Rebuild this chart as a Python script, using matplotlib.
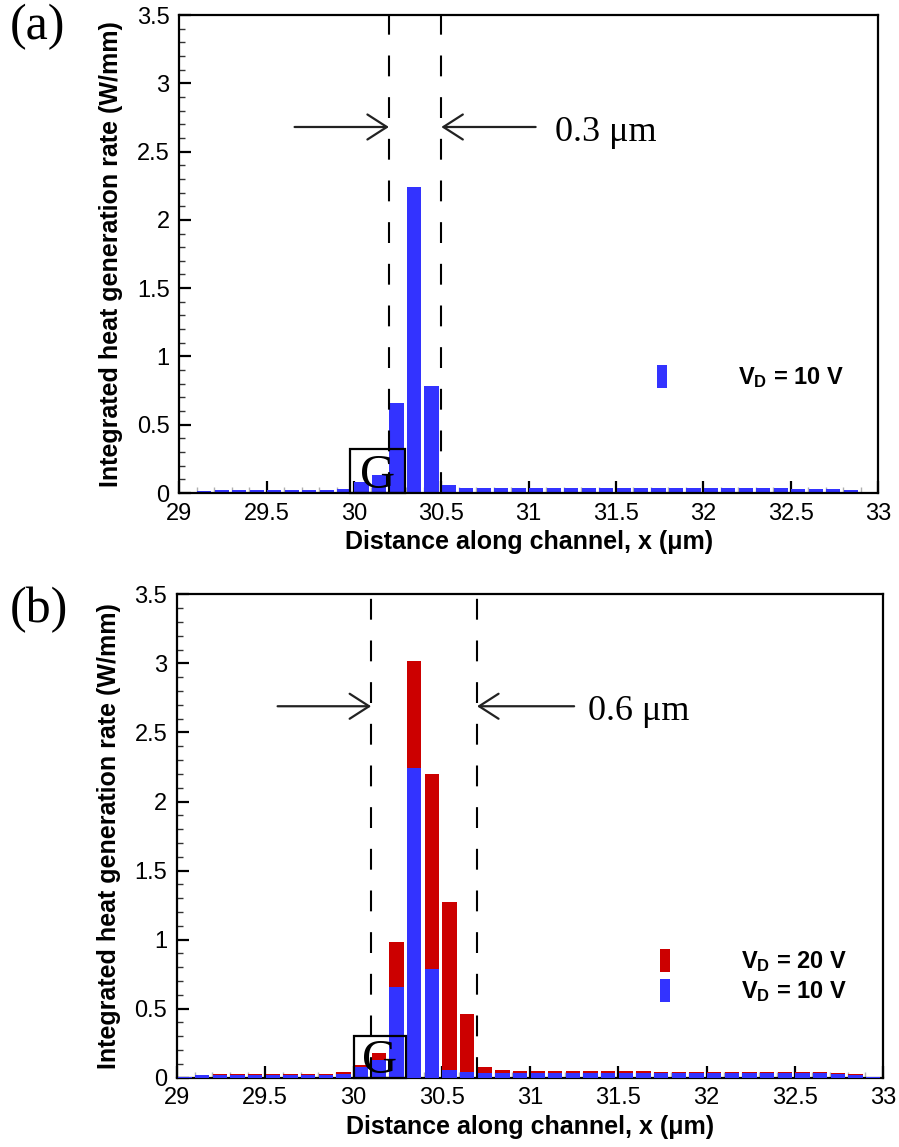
import numpy as np
import matplotlib
matplotlib.use("Agg")
import matplotlib.pyplot as plt
from matplotlib.patches import Rectangle
from matplotlib.ticker import MultipleLocator

plt.rcParams['font.family'] = ['Liberation Sans', 'DejaVu Sans']
plt.rcParams['mathtext.fontset'] = 'custom'
plt.rcParams['mathtext.rm'] = 'Liberation Sans'
plt.rcParams['mathtext.bf'] = 'Liberation Sans:bold'
plt.rcParams['mathtext.it'] = 'Liberation Sans:bold'

# Bin start positions along the channel (0.1 um bins, 29.0 .. 32.9)
bin_start = [round(29.0 + 0.1 * i, 1) for i in range(40)]

# Integrated heat generation rate per bin (W/mm), V_D = 10 V
q_10v = [0.008, 0.018, 0.020, 0.022, 0.022, 0.022, 0.022, 0.022, 0.022, 0.030,
         0.078, 0.130, 0.660, 2.240, 0.785, 0.055, 0.040, 0.036, 0.035, 0.035,
         0.035, 0.035, 0.035, 0.034, 0.034, 0.034, 0.034, 0.034, 0.033, 0.033,
         0.033, 0.033, 0.033, 0.033, 0.033, 0.032, 0.032, 0.030, 0.020, 0.005]

# Integrated heat generation rate per bin (W/mm), V_D = 20 V
q_20v = [0.008, 0.020, 0.024, 0.025, 0.025, 0.026, 0.026, 0.026, 0.026, 0.040,
         0.092, 0.180, 0.980, 3.020, 2.200, 1.270, 0.460, 0.080, 0.058, 0.050,
         0.048, 0.047, 0.046, 0.046, 0.045, 0.045, 0.045, 0.044, 0.044, 0.044,
         0.043, 0.043, 0.043, 0.042, 0.042, 0.042, 0.040, 0.035, 0.025, 0.005]

BLUE = '#3333ff'
RED = '#cc0000'

W, H = 899, 1147
fig = plt.figure(figsize=(W / 100, H / 100), dpi=100)


def px_axes(left, right, top, bottom):
    return fig.add_axes([left / W, 1 - bottom / H, (right - left) / W, (bottom - top) / H])


def style_axes(ax):
    ax.set_xlim(29, 33)
    ax.set_ylim(0, 3.5)
    for s in ax.spines.values():
        s.set_linewidth(1.6)
    ax.xaxis.set_major_locator(MultipleLocator(0.5))
    ax.xaxis.set_minor_locator(MultipleLocator(0.1))
    ax.yaxis.set_major_locator(MultipleLocator(0.5))
    ax.yaxis.set_minor_locator(MultipleLocator(0.1))
    ax.xaxis.set_major_formatter(plt.FuncFormatter(lambda v, p: f'{v:g}'))
    ax.yaxis.set_major_formatter(plt.FuncFormatter(lambda v, p: f'{v:g}'))
    ax.tick_params(axis='both', which='major', direction='in', length=8.5, width=1.6,
                   labelsize=17, top=False, right=False)
    ax.tick_params(axis='x', which='major', pad=7)
    ax.tick_params(axis='y', which='major', pad=7)
    ax.tick_params(axis='x', which='minor', direction='in', length=4, width=1.0,
                   color='#b0b0b0', top=False)
    ax.tick_params(axis='y', which='minor', direction='in', length=4, width=1.0,
                   color='#333333', right=False)
    ax.set_xlabel('Distance along channel, x (\u03bcm)', fontsize=18, fontweight='bold',
                  labelpad=4)
    ax.set_ylabel('Integrated heat generation rate (W/mm)', fontsize=18,
                  fontweight='bold', labelpad=10)


def span_marks(ax, x_left, x_right, y, tail_left, tail_right, label, label_x):
    dash = dict(color='black', lw=1.5, dashes=(10, 10), zorder=4)
    ax.axvline(x_left, **dash)
    ax.axvline(x_right, **dash)
    arrow = dict(arrowstyle='->,head_length=0.7,head_width=0.45', lw=1.6,
                 color='#222222', shrinkA=0, shrinkB=0, mutation_scale=20)
    ax.annotate('', xy=(x_left, y), xytext=(tail_left, y), arrowprops=arrow)
    ax.annotate('', xy=(x_right, y), xytext=(tail_right, y), arrowprops=arrow)
    ax.text(label_x, y - 0.04, label, fontsize=26, family='Liberation Serif',
            ha='left', va='center')


def gate_box(ax, x0, x1, top):
    ax.add_patch(Rectangle((x0, 0), x1 - x0, top, fill=False, lw=1.6,
                           edgecolor='black', zorder=5, clip_on=False))
    ax.text((x0 + x1) / 2, 0.035, 'G', fontsize=35, family='Liberation Serif',
            ha='center', va='baseline', zorder=6)


left_edges = np.array(bin_start) + 0.003
bar_w = 0.081
legend_style = dict(loc='upper left', frameon=False,
                    prop={'weight': 'bold', 'size': 17},
                    handlelength=0.42, handleheight=1.1, handletextpad=3.0,
                    labelspacing=0.2, borderpad=0, borderaxespad=0)

# Panel (a): V_D = 10 V
ax1 = px_axes(179.3, 878, 15, 493)
b10a = ax1.bar(left_edges, q_10v, width=bar_w, align='edge', color=BLUE,
               edgecolor='none', zorder=2)
style_axes(ax1)
span_marks(ax1, 30.2, 30.5, 2.68, 29.66, 31.04, '0.3 \u03bcm', 31.15)
gate_box(ax1, 29.98, 30.29, 0.32)
ax1.legend([b10a], [r'$\mathbf{V_D}$ = 10 V'], bbox_to_anchor=(0.684, 0.268),
           **legend_style)

# Panel (b): V_D = 20 V overlaid with V_D = 10 V
ax2 = px_axes(177, 883, 594.4, 1077.7)
b20 = ax2.bar(left_edges, q_20v, width=bar_w, align='edge', color=RED,
              edgecolor='none', zorder=2)
b10b = ax2.bar(left_edges, q_10v, width=bar_w, align='edge', color=BLUE,
               edgecolor='none', zorder=3)
style_axes(ax2)
span_marks(ax2, 30.1, 30.7, 2.69, 29.57, 31.25, '0.6 \u03bcm', 31.33)
gate_box(ax2, 30.0, 30.3, 0.30)
ax2.legend([b20, b10b], [r'$\mathbf{V_D}$ = 20 V', r'$\mathbf{V_D}$ = 10 V'],
           bbox_to_anchor=(0.684, 0.266), **legend_style)

fig.text(10 / W, 1 - 4 / H, '(a)', fontsize=36, family='Liberation Serif',
         ha='left', va='top')
fig.text(10 / W, 1 - 587 / H, '(b)', fontsize=36, family='Liberation Serif',
         ha='left', va='top')

fig.savefig('out.png', dpi=100)
